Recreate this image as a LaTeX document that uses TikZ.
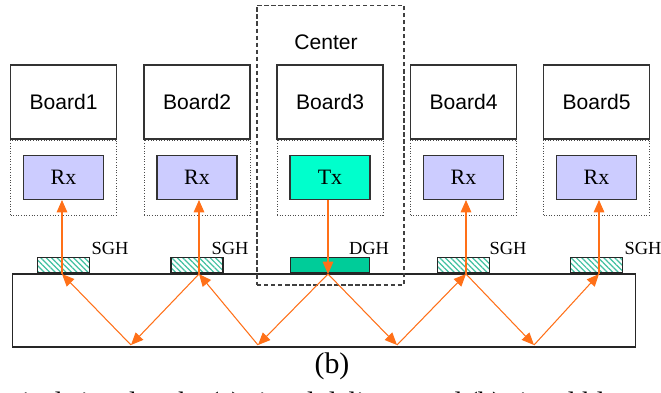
\documentclass[tikz,border=0pt]{standalone}
\usepackage{fontspec}
\setmainfont{Liberation Serif}
\setsansfont{Liberation Sans}
\usepackage{tikz}
\usetikzlibrary{positioning,arrows.meta,patterns.meta}

\definecolor{raycol}{RGB}{255,112,24}
\definecolor{rxfill}{RGB}{204,204,255}
\definecolor{txfill}{RGB}{0,255,204}
\definecolor{dghfill}{RGB}{0,204,153}
\definecolor{hatchcol}{RGB}{64,192,160}

\tikzset{
  boardbox/.style={draw=black!80, line width=0.6pt, minimum width=2.12cm, minimum height=1.48cm,
    inner sep=0pt, font=\sffamily\fontsize{12}{14}\selectfont},
  slotbox/.style={draw=black!70, densely dotted, line width=0.5pt, minimum width=2.12cm,
    minimum height=1.5cm, inner sep=0pt},
  rxbox/.style={draw=black!80, line width=0.6pt, fill=rxfill, minimum width=1.6cm,
    minimum height=0.88cm, inner sep=0pt, font=\fontsize{12.5}{14}\selectfont},
  txbox/.style={rxbox, fill=txfill},
  sghbar/.style={draw=black!85, line width=0.6pt, minimum width=1.04cm, minimum height=0.3cm,
    inner sep=0pt, pattern={Lines[angle=-45,distance=2.2pt,line width=0.7pt]}, pattern color=hatchcol},
  dghbar/.style={draw=black!85, line width=0.6pt, fill=dghfill, minimum width=1.58cm,
    minimum height=0.3cm, inner sep=0pt},
  hlabel/.style={font=\fontsize{10.5}{12}\selectfont, inner sep=0pt},
  ray/.style={draw=raycol, line width=0.6pt, -{Triangle[length=7pt,width=6pt]}}
}

\begin{document}
\begin{tikzpicture}[x=0.02cm,y=-0.02cm]
    \useasboundingbox (0,0) rectangle (661,392);
    \clip (0,0) rectangle (661,392);
    % boards, each with its receiver or transmitter slot
    \node[boardbox] (board1) at (63.5,102) {Board1};
    \node[boardbox] (board2) at (197,102) {Board2};
    \node[boardbox] (board3) at (330,102) {Board3};
    \node[boardbox] (board4) at (463.5,102) {Board4};
    \node[boardbox] (board5) at (596.5,102) {Board5};
    \node[slotbox, below=0pt of board1] (slot1) {};
    \node[slotbox, below=0pt of board2] (slot2) {};
    \node[slotbox, below=0pt of board3] (slot3) {};
    \node[slotbox, below=0pt of board4] (slot4) {};
    \node[slotbox, below=0pt of board5] (slot5) {};
    \node[rxbox] (rx1) at (slot1) {Rx};
    \node[rxbox] (rx2) at (slot2) {Rx};
    \node[txbox] (tx3) at (slot3) {Tx};
    \node[rxbox] (rx4) at (slot4) {Rx};
    \node[rxbox] (rx5) at (slot5) {Rx};
    % backplane waveguide and gratings
    \node[draw=black!85, line width=0.6pt, minimum width=12.48cm, minimum height=1.46cm,
      inner sep=0pt] (slab) at (324,310.5) {};
    \node[sghbar, anchor=south] (sgh1) at (slab.north -| board1) {};
    \node[sghbar, anchor=south] (sgh2) at (slab.north -| board2) {};
    \node[dghbar, anchor=south] (dgh3) at (slab.north -| board3) {};
    \node[sghbar, anchor=south] (sgh4) at (slab.north -| board4) {};
    \node[sghbar, anchor=south] (sgh5) at (slab.north -| board5) {};
    \node[hlabel] (lab1) at (110,248) {SGH};
    \node[hlabel] (lab2) at (230,248) {SGH};
    \node[hlabel] (lab3) at (369,248) {DGH};
    \node[hlabel] (lab4) at (508,248) {SGH};
    \node[hlabel] (lab5) at (643,248) {SGH};
    % center board frame
    \node[draw=black!75, line width=0.6pt, dash pattern=on 2.5pt off 1.5pt, minimum width=2.94cm,
      minimum height=5.6cm, inner sep=0pt] (center) at (330.5,145) {};
    \node[font=\sffamily\fontsize{12}{14}\selectfont] (centerlab) at (326,42) {Center};
    % zig-zag path in the slab
    \coordinate (t1) at (62,274);
    \coordinate (t2) at (199,274);
    \coordinate (t3) at (328,274);
    \coordinate (t4) at (466,274);
    \coordinate (t5) at (599,274);
    \coordinate (v1) at (131,345);
    \coordinate (v2) at (258,345);
    \coordinate (v3) at (397,345);
    \coordinate (v4) at (534,345);
    \draw[ray] (tx3.south -| t3) -- (t3);
    \draw[ray] (t3) -- (v2);
    \draw[ray] (v2) -- (t2);
    \draw[ray] (t2) -- (v1);
    \draw[ray] (v1) -- (t1);
    \draw[ray] (t1) -- (t1 |- rx1.south);
    \draw[ray] (t2) -- (t2 |- rx2.south);
    \draw[ray] (t3) -- (v3);
    \draw[ray] (v3) -- (t4);
    \draw[ray] (t4) -- (v4);
    \draw[ray] (v4) -- (t5);
    \draw[ray] (t4) -- (t4 |- rx4.south);
    \draw[ray] (t5) -- (t5 |- rx5.south);
    % caption
    \node[font=\fontsize{17}{20}\selectfont] (sub) at (332,366) {(b)};
    \node[anchor=base west, font=\fontsize{16}{19}\selectfont, inner sep=0pt] (caption) at (14,411)
      {tical signal path: (a) signal delivery and (b) signal bl};
\end{tikzpicture}
\end{document}
